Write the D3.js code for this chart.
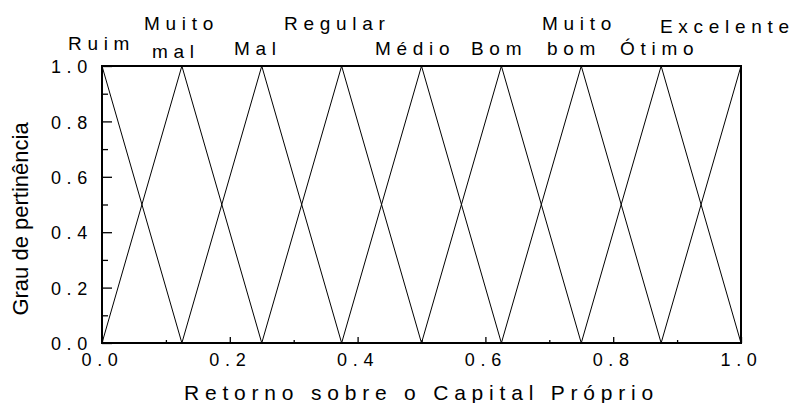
<!DOCTYPE html>
<html>
<head>
<meta charset="utf-8">
<script src="https://cdn.jsdelivr.net/npm/d3@7"></script>
<style>
  html, body { margin: 0; padding: 0; background: #fff; }
  svg { display: block; }
  text { font-family: "Liberation Sans", Arial, sans-serif; fill: #000; }
</style>
</head>
<body>
<svg id="chart" width="796" height="403"></svg>
<script>
// ---- data ----
const categories = ["Ruim", "Muito mal", "Mal", "Regular", "Médio", "Bom", "Muito bom", "Ótimo", "Excelente"];
// vertices of each triangular membership function (x values / membership degree)
const vertexX = [
  [0, 0.125],
  [0, 0.125, 0.25],
  [0.125, 0.25, 0.375],
  [0.25, 0.375, 0.5],
  [0.375, 0.5, 0.625],
  [0.5, 0.625, 0.75],
  [0.625, 0.75, 0.875],
  [0.75, 0.875, 1],
  [0.875, 1]
];
const vertexY = [
  [1, 0],
  [0, 1, 0],
  [0, 1, 0],
  [0, 1, 0],
  [0, 1, 0],
  [0, 1, 0],
  [0, 1, 0],
  [0, 1, 0],
  [0, 1]
];
const xTickValues = [0, 0.2, 0.4, 0.6, 0.8, 1.0];
const xMinorValues = [0.1, 0.3, 0.5, 0.7, 0.9];
const yTickValues = [0, 0.2, 0.4, 0.6, 0.8, 1.0];
const yMinorValues = [0.1, 0.3, 0.5, 0.7, 0.9];
const xTitle = "Retorno sobre o Capital Próprio";
const yTitle = "Grau de pertinência";

// ---- layout (pixels) ----
const M = { left: 102, right: 741, top: 66, bottom: 343 };
// category label placement: [line texts], start x, baseline of each line
const labelLayout = [
  { lines: ["Ruim"], x: [68], y: [50] },
  { lines: ["Muito", "mal"], x: [144, 152], y: [30, 58] },
  { lines: ["Mal"], x: [234], y: [55] },
  { lines: ["Regular"], x: [284], y: [30] },
  { lines: ["Médio"], x: [375], y: [55] },
  { lines: ["Bom"], x: [471], y: [55] },
  { lines: ["Muito", "bom"], x: [542, 547], y: [30, 55] },
  { lines: ["Ótimo"], x: [620], y: [55] },
  { lines: ["Excelente"], x: [660], y: [33] }
];

const svg = d3.select("#chart");
const x = d3.scaleLinear().domain([0, 1]).range([M.left, M.right]);
const y = d3.scaleLinear().domain([0, 1]).range([M.bottom, M.top]);

// membership lines
const line = d3.line().x(d => x(d[0])).y(d => y(d[1]));
svg.append("g").selectAll("path")
  .data(vertexX.map((xs, i) => xs.map((v, j) => [v, vertexY[i][j]])))
  .join("path")
  .attr("d", line)
  .attr("fill", "none")
  .attr("stroke", "#000")
  .attr("stroke-width", 1);

// axes
const fmt = d3.format(".1f");
const xAxis = svg.append("g").attr("transform", `translate(0,${M.bottom})`)
  .call(d3.axisBottom(x).tickValues(xTickValues).tickFormat(fmt).tickSizeInner(-6).tickSizeOuter(0).tickPadding(10));
const xMinor = svg.append("g").attr("transform", `translate(0,${M.bottom})`)
  .call(d3.axisBottom(x).tickValues(xMinorValues).tickFormat("").tickSizeInner(-3).tickSizeOuter(0));
const yAxis = svg.append("g").attr("transform", `translate(${M.left},0)`)
  .call(d3.axisLeft(y).tickValues(yTickValues).tickFormat(fmt).tickSizeInner(-10).tickSizeOuter(0).tickPadding(9));
const yMinor = svg.append("g").attr("transform", `translate(${M.left},0)`)
  .call(d3.axisLeft(y).tickValues(yMinorValues).tickFormat("").tickSizeInner(-6).tickSizeOuter(0));

[xAxis, xMinor, yAxis, yMinor].forEach(g => {
  g.select(".domain").remove();
  g.selectAll(".tick line").attr("stroke", "#000").attr("stroke-width", 1.3);
  g.selectAll(".tick text")
    .style("font-family", "'Liberation Sans', Arial, sans-serif")
    .style("font-size", "18px")
    .style("letter-spacing", "5.7px")
    .attr("fill", "#000");
});
yAxis.selectAll(".tick text").attr("dy", "0.37em");

// frame
svg.append("rect")
  .attr("x", M.left).attr("y", M.top)
  .attr("width", M.right - M.left).attr("height", M.bottom - M.top)
  .attr("fill", "none").attr("stroke", "#000").attr("stroke-width", 2);

// category labels
const lab = svg.append("g");
labelLayout.forEach((L, i) => {
  L.lines.forEach((t, k) => {
    lab.append("text")
      .attr("x", L.x[k]).attr("y", L.y[k])
      .style("font-size", "19px")
      .style("letter-spacing", "5.7px")
      .text(t);
  });
});

// axis titles
svg.append("text")
  .attr("x", (M.left + M.right) / 2).attr("y", 400)
  .attr("text-anchor", "middle")
  .style("font-size", "21px")
  .style("letter-spacing", "5.8px")
  .text(xTitle);

svg.append("text")
  .attr("transform", "translate(28,219) rotate(-90)")
  .attr("text-anchor", "middle")
  .style("font-size", "22px")
  .text(yTitle);
</script>
</body>
</html>
